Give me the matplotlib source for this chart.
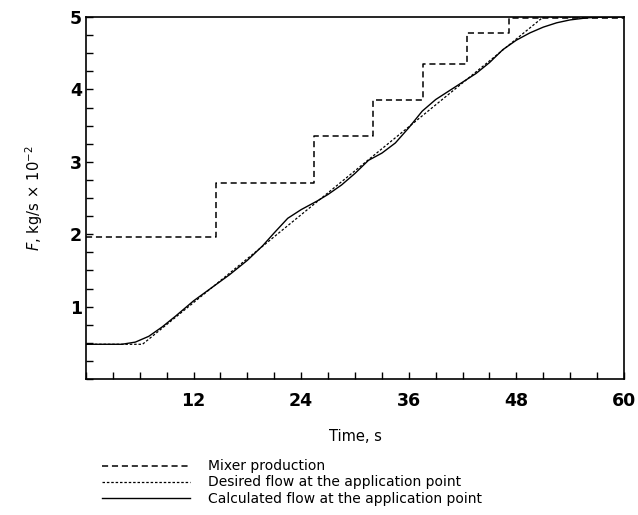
import numpy as np
import matplotlib
matplotlib.use('Agg')
import matplotlib.pyplot as plt
from matplotlib.ticker import MultipleLocator

# Mixer production (step profile)
mix_t = [0, 14.5, 25.4, 32.0, 37.6, 42.5, 47.2, 60]
mix_f = [1.96, 2.71, 3.35, 3.86, 4.35, 4.78, 4.99, 4.99]

# Desired flow at the application point (straight ramp)
des_t = [0, 6.3, 51.0, 60]
des_f = [0.48, 0.48, 5.0, 5.0]

# Calculated flow at the application point
calc_t = [0, 4, 5.5, 7, 8.5, 10, 12, 14, 16, 18, 19.7, 21, 22.5, 24, 25.8, 27,
          28.5, 30, 31.5, 33, 34.5, 36, 37.5, 39, 40.5, 42, 43.5, 45, 46.5,
          48, 49.5, 51, 52.5, 54, 56, 58, 60]
calc_f = [0.48, 0.48, 0.51, 0.59, 0.72, 0.87, 1.08, 1.26, 1.44, 1.64, 1.84,
          2.02, 2.22, 2.34, 2.46, 2.55, 2.68, 2.84, 3.02, 3.12, 3.26, 3.47,
          3.70, 3.86, 3.98, 4.10, 4.22, 4.37, 4.55, 4.68, 4.78, 4.86, 4.92,
          4.96, 4.99, 5.0, 5.0]

fig = plt.figure(figsize=(6.38, 5.15), dpi=100)
ax = fig.add_axes([0.1348, 0.264, 0.8432, 0.703])

l1, = ax.step(mix_t, mix_f, where='post', color='k', lw=1.1, ls=(0, (4, 2.5)))
l2, = ax.plot(des_t, des_f, color='k', lw=0.9, ls=(0, (2, 1.5)))
l3, = ax.plot(calc_t, calc_f, color='k', lw=1.0)

ax.set_xlim(0, 60)
ax.set_ylim(0, 5)
ax.xaxis.set_minor_locator(MultipleLocator(3))
ax.yaxis.set_minor_locator(MultipleLocator(0.25))
ax.set_xticks([12, 24, 36, 48, 60])
ax.set_yticks([1, 2, 3, 4, 5])
ax.tick_params(which='both', direction='in', length=5, width=1, top=False, right=False)
ax.tick_params(axis='x', which='major', pad=9)
ax.tick_params(axis='y', which='major', pad=3)
for lab in ax.get_xticklabels() + ax.get_yticklabels():
    lab.set_fontsize(12.5)
    lab.set_fontweight('bold')
for s in ax.spines.values():
    s.set_linewidth(1.2)

ax.set_xlabel('Time, s', fontsize=10.5, labelpad=14)
ax.set_ylabel(r'$F$, kg/s$\,\times\,$10$^{-2}$', fontsize=10.5, labelpad=18)

fig.legend([l1, l2, l3],
           ['Mixer production', 'Desired flow at the application point',
            'Calculated flow at the application point'],
           loc='upper left', bbox_to_anchor=(0.16, 0.108), frameon=False,
           fontsize=10, handlelength=6.3, labelspacing=0.15, handletextpad=1.3,
           borderaxespad=0, borderpad=0)

fig.savefig('out.png', dpi=100)
